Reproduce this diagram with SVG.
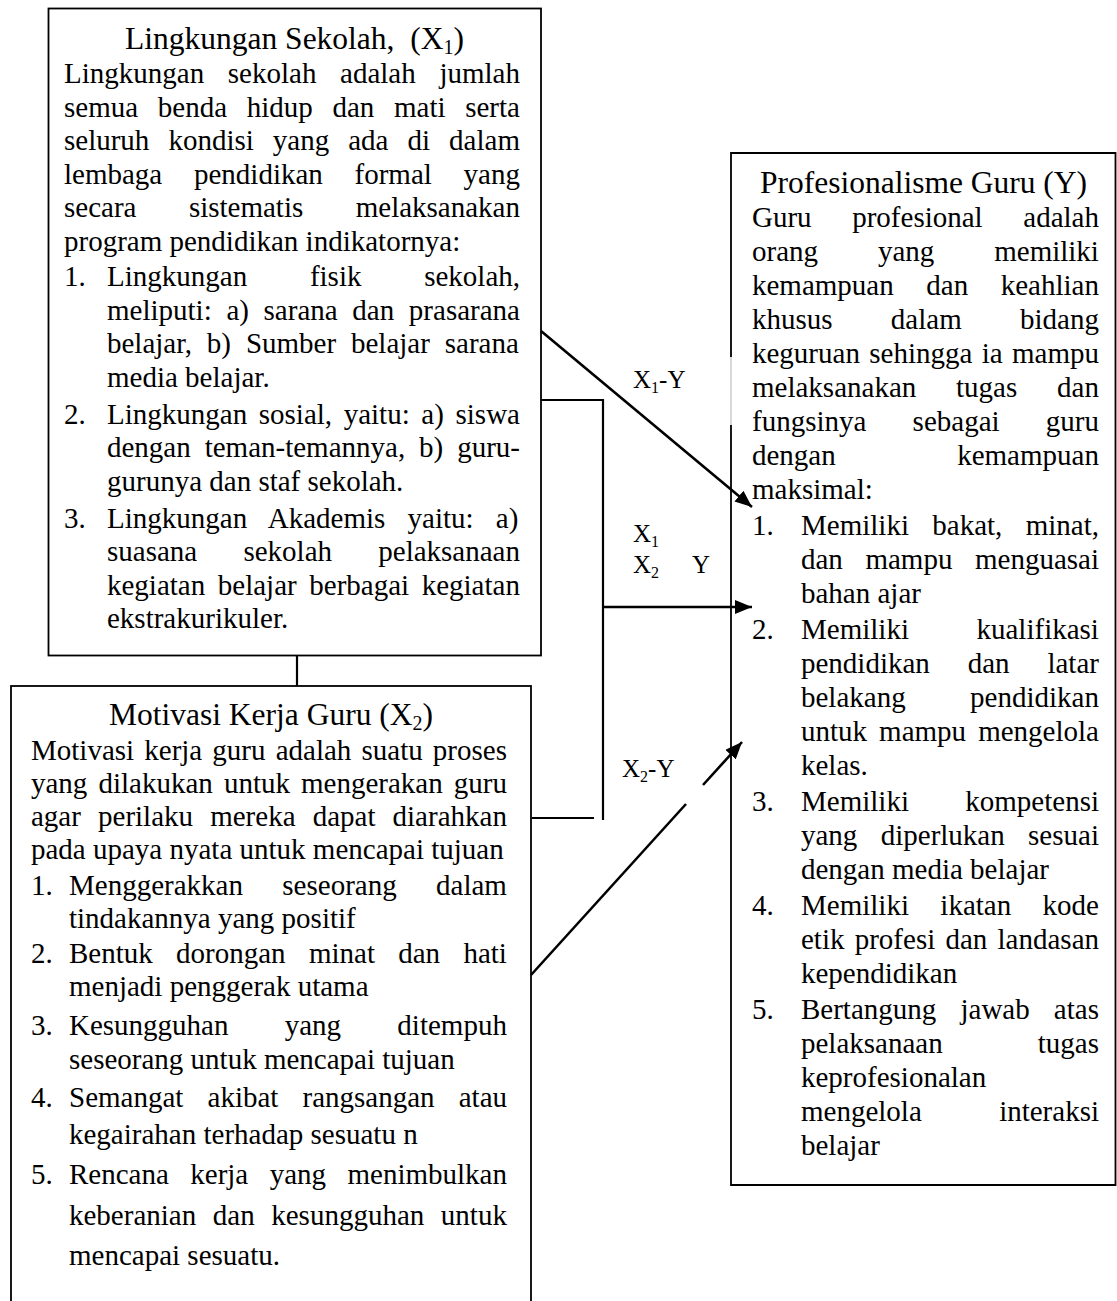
<svg xmlns="http://www.w3.org/2000/svg" width="1117" height="1301" viewBox="0 0 1117 1301">
<defs>
<style>
.t{font-family:"Liberation Serif","Times New Roman",serif;font-size:29px;fill:#000}
.h{font-family:"Liberation Serif","Times New Roman",serif;font-size:31.5px;fill:#000;text-anchor:middle}
.lb{font-family:"Liberation Serif","Times New Roman",serif;font-size:25px;fill:#000}
.box{fill:none;stroke:#000;stroke-width:1.8}
.con{fill:none;stroke:#000;stroke-width:2.2}
.arr{fill:none;stroke:#000;stroke-width:2.6}
</style>
<marker id="ah" markerUnits="userSpaceOnUse" markerWidth="18" markerHeight="14" refX="17" refY="7" orient="auto">
<path d="M0,0 L17,7 L0,14 z" fill="#000"/>
</marker>
</defs>
<rect width="1117" height="1301" fill="#fff"/>

<g id="node-x1">
<rect class="box" x="48.5" y="8.5" width="492.5" height="647"/>
<text class="h" x="294.5" y="49" xml:space="preserve">Lingkungan Sekolah,  (X<tspan font-size="20" dy="5">1</tspan><tspan dy="-5">)</tspan></text>
<text class="t" x="64" y="83" word-spacing="16.42">Lingkungan sekolah adalah jumlah</text>
<text class="t" x="64" y="117" word-spacing="12.43">semua benda hidup dan mati serta</text>
<text class="t" x="64" y="150" word-spacing="11.78">seluruh kondisi yang ada di dalam</text>
<text class="t" x="64" y="184" word-spacing="24.47">lembaga pendidikan formal yang</text>
<text class="t" x="64" y="217" word-spacing="45.2">secara sistematis melaksanakan</text>
<text class="t" x="64" y="251">program pendidikan indikatornya:</text>
<text class="t" x="64" y="286">1.</text>
<text class="t" x="107" y="286" word-spacing="55.5">Lingkungan fisik sekolah,</text>
<text class="t" x="107" y="320" word-spacing="7.42">meliputi: a) sarana dan prasarana</text>
<text class="t" x="107" y="353" word-spacing="7.63">belajar, b) Sumber belajar sarana</text>
<text class="t" x="107" y="387">media belajar.</text>
<text class="t" x="64" y="424">2.</text>
<text class="t" x="107" y="424" word-spacing="4.37">Lingkungan sosial, yaitu: a) siswa</text>
<text class="t" x="107" y="457" word-spacing="6.67">dengan teman-temannya, b) guru-</text>
<text class="t" x="107" y="491">gurunya dan staf sekolah.</text>
<text class="t" x="64" y="528">3.</text>
<text class="t" x="107" y="528" word-spacing="14.97">Lingkungan Akademis yaitu: a)</text>
<text class="t" x="107" y="561" word-spacing="39">suasana sekolah pelaksanaan</text>
<text class="t" x="107" y="595" word-spacing="5.33">kegiatan belajar berbagai kegiatan</text>
<text class="t" x="107" y="628">ekstrakurikuler.</text>
</g>

<g id="node-x2">
<rect class="box" x="11" y="686" width="520" height="640"/>
<text class="h" x="271" y="725">Motivasi Kerja Guru (X<tspan font-size="20" dy="5">2</tspan><tspan dy="-5">)</tspan></text>
<text class="t" x="31" y="760" word-spacing="2.9">Motivasi kerja guru adalah suatu proses</text>
<text class="t" x="31" y="793" word-spacing="3.83">yang dilakukan untuk mengerakan guru</text>
<text class="t" x="31" y="826" word-spacing="9.88">agar perilaku mereka dapat diarahkan</text>
<text class="t" x="31" y="859">pada upaya nyata untuk mencapai tujuan</text>
<text class="t" x="31" y="895">1.</text>
<text class="t" x="69" y="895" word-spacing="32.15">Menggerakkan seseorang dalam</text>
<text class="t" x="69" y="928">tindakannya yang positif</text>
<text class="t" x="31" y="963">2.</text>
<text class="t" x="69" y="963" word-spacing="16.05">Bentuk dorongan minat dan hati</text>
<text class="t" x="69" y="996">menjadi penggerak utama</text>
<text class="t" x="31" y="1035">3.</text>
<text class="t" x="69" y="1035" word-spacing="49">Kesungguhan yang ditempuh</text>
<text class="t" x="69" y="1069">seseorang untuk mencapai tujuan</text>
<text class="t" x="31" y="1107">4.</text>
<text class="t" x="69" y="1107" word-spacing="16.9">Semangat akibat rangsangan atau</text>
<text class="t" x="69" y="1144">kegairahan terhadap sesuatu n</text>
<text class="t" x="31" y="1184">5.</text>
<text class="t" x="69" y="1184" word-spacing="14.2">Rencana kerja yang menimbulkan</text>
<text class="t" x="69" y="1225" word-spacing="9.33">keberanian dan kesungguhan untuk</text>
<text class="t" x="69" y="1265">mencapai sesuatu.</text>
</g>

<g id="node-y">
<path class="box" d="M731,357 V153 H1115.5 V1185 H731 V425"/>
<path d="M731,357 V425" stroke="#b0b0b0" stroke-width="1" fill="none"/>
<text class="h" x="923.5" y="193">Profesionalisme Guru (Y)</text>
<text class="t" x="752" y="227" word-spacing="33.35">Guru profesional adalah</text>
<text class="t" x="752" y="261" word-spacing="52.65">orang yang memiliki</text>
<text class="t" x="752" y="295" word-spacing="25.3">kemampuan dan keahlian</text>
<text class="t" x="752" y="329" word-spacing="51.05">khusus dalam bidang</text>
<text class="t" x="752" y="363" word-spacing="2.1">keguruan sehingga ia mampu</text>
<text class="t" x="752" y="397" word-spacing="32.55">melaksanakan tugas dan</text>
<text class="t" x="752" y="431" word-spacing="39">fungsinya sebagai guru</text>
<text class="t" x="752" y="465" word-spacing="114.2">dengan kemampuan</text>
<text class="t" x="752" y="499">maksimal:</text>
<text class="t" x="752" y="535">1.</text>
<text class="t" x="801" y="535" word-spacing="16.1">Memiliki bakat, minat,</text>
<text class="t" x="801" y="569" word-spacing="15.3">dan mampu menguasai</text>
<text class="t" x="801" y="603">bahan ajar</text>
<text class="t" x="752" y="639">2.</text>
<text class="t" x="801" y="639" word-spacing="60.3">Memiliki kualifikasi</text>
<text class="t" x="801" y="673" word-spacing="30.6">pendidikan dan latar</text>
<text class="t" x="801" y="707" word-spacing="57.2">belakang pendidikan</text>
<text class="t" x="801" y="741" word-spacing="4.8">untuk mampu mengelola</text>
<text class="t" x="801" y="775">kelas.</text>
<text class="t" x="752" y="811">3.</text>
<text class="t" x="801" y="811" word-spacing="49.1">Memiliki kompetensi</text>
<text class="t" x="801" y="845" word-spacing="16.1">yang diperlukan sesuai</text>
<text class="t" x="801" y="879">dengan media belajar</text>
<text class="t" x="752" y="915">4.</text>
<text class="t" x="801" y="915" word-spacing="24.15">Memiliki ikatan kode</text>
<text class="t" x="801" y="949" word-spacing="2.97">etik profesi dan landasan</text>
<text class="t" x="801" y="983">kependidikan</text>
<text class="t" x="752" y="1019">5.</text>
<text class="t" x="801" y="1019" word-spacing="16.9">Bertangung jawab atas</text>
<text class="t" x="801" y="1053" word-spacing="87.8">pelaksanaan tugas</text>
<text class="t" x="801" y="1087">keprofesionalan</text>
<text class="t" x="801" y="1121" word-spacing="70.1">mengelola interaksi</text>
<text class="t" x="801" y="1155">belajar</text>
</g>

<g id="connectors">
<path class="con" d="M297,655 V686"/>
<path class="arr" d="M541,331 L752,507" marker-end="url(#ah)"/>
<path class="con" d="M541,400 H603 V820"/>
<path class="con" d="M532,818 H594"/>
<path class="arr" d="M603,607 H752" marker-end="url(#ah)"/>
<path class="arr" d="M531,975 L686,804"/>
<path class="arr" d="M703,785 L742,742" marker-end="url(#ah)"/>
</g>

<g id="labels">
<text class="lb" x="633" y="388">X<tspan font-size="16" dy="5">1</tspan><tspan dy="-5">-Y</tspan></text>
<text class="lb" x="633" y="542">X<tspan font-size="16" dy="5">1</tspan></text>
<text class="lb" x="633" y="573">X<tspan font-size="16" dy="5">2</tspan></text>
<text class="lb" x="692" y="573">Y</text>
<text class="lb" x="622" y="777">X<tspan font-size="16" dy="5">2</tspan><tspan dy="-5">-Y</tspan></text>
</g>
</svg>
